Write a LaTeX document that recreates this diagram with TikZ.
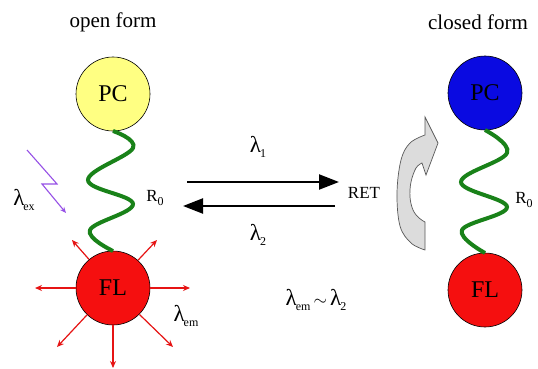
\documentclass[tikz,border=0pt]{standalone}
\usepackage{fontspec}
\setmainfont{Liberation Serif}
\usetikzlibrary{arrows.meta}
\definecolor{pcyellow}{RGB}{255,255,130}
\definecolor{flred}{RGB}{245,15,15}
\definecolor{pcblue}{RGB}{10,10,225}
\definecolor{springgreen}{RGB}{25,130,25}
\definecolor{boltviolet}{RGB}{150,80,230}
\definecolor{emitred}{RGB}{230,20,20}
\definecolor{turngrey}{RGB}{220,220,220}
\newcommand\lam[1]{{\fontsize{23}{23}\selectfont λ}\kern-1pt\raisebox{-0.5ex}{\fontsize{12}{12}\selectfont #1}}
\newcommand\rzero{R\raisebox{-0.4ex}{\fontsize{12}{12}\selectfont 0}}
\begin{document}
\begin{tikzpicture}[x=1pt,y=-1pt,
  ball/.style={circle, draw=black, line width=0.6pt, minimum size=74pt, inner sep=0pt, font=\fontsize{24}{24}\selectfont},
  title/.style={font=\fontsize{21}{21}\selectfont},
  lab/.style={font=\fontsize{19}{19}\selectfont, inner sep=0pt},
  small/.style={font=\fontsize{17}{17}\selectfont, inner sep=0pt},
  spring/.style={draw=springgreen, line width=4pt},
  emit/.style={draw=emitred, line width=1.2pt, -{Stealth[length=7pt,width=6pt]}},
  bigarrow/.style={draw=black, line width=2.2pt, -{Triangle[length=20pt,width=15pt]}},
  bolt/.style={draw=boltviolet, line width=1.1pt, -{Stealth[length=6pt,width=5pt]}},
  turn/.style={draw=gray!70!black, fill=turngrey, line width=0.7pt}
]
\fill[white] (0,0) rectangle (538,369);
\useasboundingbox (0,0) rectangle (538,369);

% titles
\node[title] (topen) at (113,22) {open form};
\node[title] (tclosed) at (478,22) {closed form};

% left molecule
\node[ball, fill=pcyellow] (pc1) at (113,94) {PC};
\node[ball, fill=flred] (fl1) at (113,288) {FL};
\draw[spring] plot[smooth, tension=0.65] coordinates {(113,131) (133,148) (88,180) (133,204) (90,230) (113,251)};

% right molecule
\node[ball, fill=pcblue] (pc2) at (485,93) {PC};
\node[ball, fill=flred] (fl2) at (485,290) {FL};
\draw[spring] plot[smooth, tension=0.65] coordinates {(485,130) (507,153) (461,182) (507,207) (462,230) (485,253)};

% emission arrows
\coordinate (e1) at (35,288);
\coordinate (e2) at (190,288);
\coordinate (e3) at (113,368);
\coordinate (e4) at (57,347);
\coordinate (e5) at (173,347);
\coordinate (e6) at (72,240);
\coordinate (e7) at (157,240);
\draw[emit] (fl1.180) -- (e1);
\draw[emit] (fl1.0) -- (e2);
\draw[emit] (fl1.270) -- (e3);
\draw[emit] (fl1.226) -- (e4);
\draw[emit] (fl1.-45) -- (e5);
\draw[emit] (fl1.130) -- (e6);
\draw[emit] (fl1.48) -- (e7);

% excitation bolt
\coordinate (b0) at (27,150);
\coordinate (b1) at (57,184);
\coordinate (b2) at (42,184);
\coordinate (b3) at (66,213);
\draw[bolt] (b0) -- (b1) -- (b2) -- (b3);

% labels left
\node[lab] (lex) at (24,200) {\lam{ex}};
\node[small] (r01) at (155,198) {\rzero};
\node[lab] (lem) at (186,316) {\lam{em}};

% middle
\node[small] (ret) at (364,193) {RET};
\coordinate (a1) at (187,182);
\coordinate (a2) at (339,182);
\coordinate (c1) at (335,206);
\coordinate (c2) at (183,206);
\draw[bigarrow] (a1) -- (a2);
\draw[bigarrow] (c1) -- (c2);
\node[lab] (l1) at (258,147) {\lam{1}};
\node[lab] (l2) at (258,235) {\lam{2}};
\node[lab] (lrel) at (316,300) {\lam{em}\,$\sim$\,\lam{2}};

% right label
\node[small] (r02) at (524,200) {\rzero};

% turning arrow
\draw[turn] (425,117) -- (438,143) -- (426,175) -- (422,163)
  -- plot[smooth, tension=0.6] coordinates {(422,163) (416,168) (411,182) (410,197) (413,210) (419,218) (425,222)}
  -- (425,250)
  -- plot[smooth, tension=0.6] coordinates {(425,250) (411,243) (400,226) (397,193) (401,160) (410,143) (425,135)}
  -- cycle;
\end{tikzpicture}
\end{document}
